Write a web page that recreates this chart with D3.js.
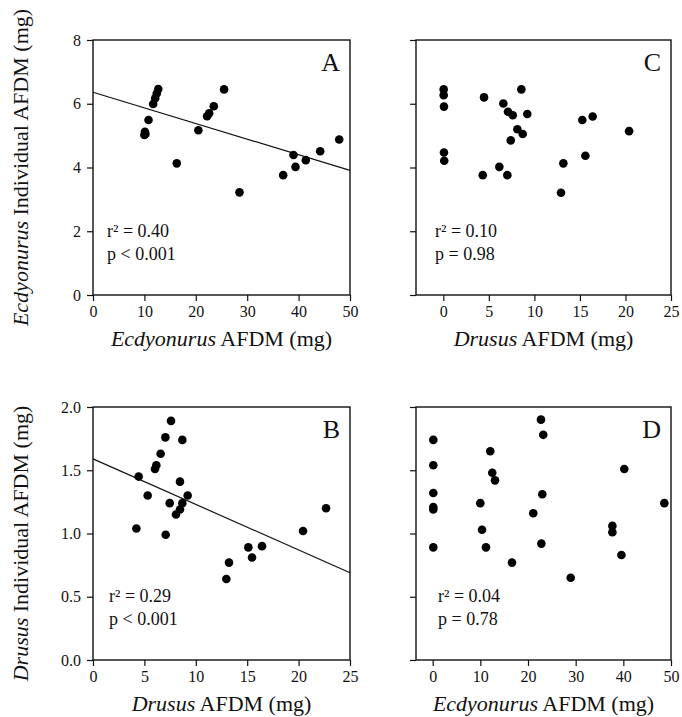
<!DOCTYPE html>
<html lang="en">
<head>
    <meta charset="UTF-8">
    <title>AFDM panels</title>
    <script src="https://cdn.jsdelivr.net/npm/d3@7"></script>
    <style>
        body { margin: 0; background: #fff; }
        svg { display: block; font-family: "Liberation Serif", "Times New Roman", serif; }
    </style>
</head>
<body>
<script>
    // panel A: Ecdyonurus AFDM vs Ecdyonurus individual AFDM
    const aX = [10.0, 10.1, 10.2, 10.8, 11.7, 12.1, 12.4, 12.7, 16.3, 20.5, 22.2, 22.6, 23.5, 25.5, 28.5, 37.0, 39.0, 39.4, 41.4, 44.2, 47.9];
    const aY = [5.02, 5.12, 5.05, 5.49, 5.99, 6.17, 6.32, 6.46, 4.13, 5.17, 5.61, 5.70, 5.92, 6.45, 3.22, 3.76, 4.39, 4.02, 4.23, 4.51, 4.88];
    const aFit = [6.36, -0.049];   // intercept, slope
    const aStats = ["r² = 0.40", "p < 0.001"];

    // panel B: Drusus AFDM vs Drusus individual AFDM
    const bX = [7.59, 7.04, 8.69, 6.58, 6.16, 6.03, 4.44, 8.46, 5.32, 9.21, 7.46, 8.69, 8.46, 8.07, 4.22, 7.07, 22.67, 20.43, 15.11, 15.47, 16.44, 13.23, 12.97];
    const bY = [1.89, 1.76, 1.74, 1.63, 1.54, 1.51, 1.45, 1.41, 1.30, 1.30, 1.24, 1.24, 1.19, 1.15, 1.04, 0.99, 1.20, 1.02, 0.89, 0.81, 0.90, 0.77, 0.64];
    const bFit = [1.59, -0.036];
    const bStats = ["r² = 0.29", "p < 0.001"];

    // panel C: Drusus AFDM vs Ecdyonurus individual AFDM
    const cX = [0.04, 0.04, 0.07, 0.07, 0.1, 4.47, 4.33, 6.59, 7.1, 7.62, 8.57, 9.22, 8.13, 8.72, 7.4, 6.15, 7.03, 13.18, 12.92, 15.26, 16.4, 15.6, 20.4];
    const cY = [6.45, 6.27, 5.91, 4.47, 4.21, 6.20, 3.76, 6.01, 5.75, 5.64, 6.45, 5.68, 5.20, 5.05, 4.85, 4.02, 3.76, 4.13, 3.21, 5.49, 5.60, 4.37, 5.14];
    const cStats = ["r² = 0.10", "p = 0.98"];

    // panel D: Ecdyonurus AFDM vs Drusus individual AFDM
    const dX = [0.13, 0.13, 0.13, 0.13, 0.13, 0.13, 12.08, 12.5, 13.07, 9.99, 10.35, 11.18, 16.64, 22.72, 23.2, 21.1, 23.0, 22.8, 28.96, 40.2, 37.7, 37.7, 39.6, 48.6];
    const dY = [1.74, 1.54, 1.32, 1.21, 1.19, 0.89, 1.65, 1.48, 1.42, 1.24, 1.03, 0.89, 0.77, 1.90, 1.78, 1.16, 1.31, 0.92, 0.65, 1.51, 1.06, 1.01, 0.83, 1.24];
    const dStats = ["r² = 0.04", "p = 0.78"];

    // ticks
    const ticksEcdX = [0, 10, 20, 30, 40, 50];
    const ticksDruX = [0, 5, 10, 15, 20, 25];
    const ticksEcdY = [0, 2, 4, 6, 8];
    const ticksDruY = [0, 0.5, 1.0, 1.5, 2.0];

    const width = 682, height = 717;
    const ink = "#111";

    const svg = d3.select("body").append("svg")
        .attr("width", width)
        .attr("height", height);

    const panels = [
        {id: "A", xs: aX, ys: aY, fit: aFit, stats: aStats, box: [93, 350, 40, 295],
            xDom: [0, 50], yDom: [0, 8], xTicks: ticksEcdX, yTicks: ticksEcdY, yFmt: d3.format("d"), yLabels: true,
            xTitle: "Ecdyonurus", yTitle: "Ecdyonurus", yTitleShift: 0, statDx: 14},
        {id: "C", xs: cX, ys: cY, fit: null, stats: cStats, box: [416, 671, 40, 295],
            xDom: [-3, 25], yDom: [0, 8], xTicks: ticksDruX, yTicks: ticksEcdY, yFmt: d3.format("d"), yLabels: false,
            xTitle: "Drusus", yTitle: null, statDx: 19},
        {id: "B", xs: bX, ys: bY, fit: bFit, stats: bStats, box: [93, 350, 407, 660],
            xDom: [0, 25], yDom: [0, 2], xTicks: ticksDruX, yTicks: ticksDruY, yFmt: d3.format(".1f"), yLabels: true,
            xTitle: "Drusus", yTitle: "Drusus", yTitleShift: 10, statDx: 16},
        {id: "D", xs: dX, ys: dY, fit: null, stats: dStats, box: [416, 671, 407, 660],
            xDom: [-3.5, 50], yDom: [0, 2], xTicks: ticksEcdX, yTicks: ticksDruY, yFmt: d3.format(".1f"), yLabels: false,
            xTitle: "Ecdyonurus", yTitle: null, statDx: 22}
    ];

    panels.forEach(p => drawPanel(p));

    function drawPanel(p) {
        const [left, right, top, bottom] = p.box;
        const x = d3.scaleLinear().domain(p.xDom).range([left, right]);
        const y = d3.scaleLinear().domain(p.yDom).range([bottom, top]);
        const g = svg.append("g");

        // axes
        const xAxis = g.append("g")
            .attr("transform", `translate(0,${bottom})`)
            .call(d3.axisBottom(x).tickValues(p.xTicks).tickSize(6).tickPadding(5).tickSizeOuter(0));
        const yAxis = g.append("g")
            .attr("transform", `translate(${left},0)`)
            .call(d3.axisLeft(y).tickValues(p.yTicks).tickFormat(p.yLabels ? p.yFmt : "").tickSize(6).tickPadding(6).tickSizeOuter(0));
        [xAxis, yAxis].forEach(a => {
            a.select(".domain").remove();
            a.selectAll("line").attr("stroke", ink).attr("stroke-width", 1.2);
            a.selectAll("text").attr("fill", ink).style("font-size", "16px")
                .style("font-family", "'Liberation Serif', 'Times New Roman', serif");
        });

        // frame
        g.append("rect")
            .attr("x", left).attr("y", top)
            .attr("width", right - left).attr("height", bottom - top)
            .attr("fill", "none")
            .attr("stroke", ink)
            .attr("stroke-width", 1.4);

        // regression line
        if (p.fit) {
            const f = v => p.fit[0] + p.fit[1] * v;
            g.append("line")
                .attr("x1", x(p.xDom[0])).attr("y1", y(f(p.xDom[0])))
                .attr("x2", x(p.xDom[1])).attr("y2", y(f(p.xDom[1])))
                .attr("stroke", ink)
                .attr("stroke-width", 1.2);
        }

        // points
        g.append("g").selectAll("circle")
            .data(p.xs.map((v, i) => [v, p.ys[i]]))
            .join("circle")
            .attr("cx", d => x(d[0]))
            .attr("cy", d => y(d[1]))
            .attr("r", 4.3)
            .attr("fill", "#000");

        // panel letter
        g.append("text")
            .attr("x", right - 10).attr("y", top + 31)
            .attr("text-anchor", "end")
            .attr("font-size", 26)
            .attr("fill", ink)
            .text(p.id);

        // stats
        p.stats.forEach((s, i) => {
            g.append("text")
                .attr("x", left + p.statDx)
                .attr("y", bottom - 58 + i * 23)
                .attr("font-size", 18)
                .attr("fill", ink)
                .text(s);
        });

        // x title
        const xt = g.append("text")
            .attr("x", (left + right) / 2)
            .attr("y", bottom + 51)
            .attr("text-anchor", "middle")
            .attr("font-size", 22)
            .attr("fill", ink);
        xt.append("tspan").attr("font-style", "italic").text(p.xTitle);
        xt.append("tspan").text(" AFDM (mg)");

        // y title
        if (p.yTitle) {
            const yt = g.append("text")
                .attr("transform", `translate(28,${(top + bottom) / 2 + p.yTitleShift}) rotate(-90)`)
                .attr("text-anchor", "middle")
                .attr("font-size", 22)
                .attr("fill", ink);
            yt.append("tspan").attr("font-style", "italic").text(p.yTitle);
            yt.append("tspan").text(" Individual AFDM (mg)");
        }
    }
</script>
</body>
</html>
